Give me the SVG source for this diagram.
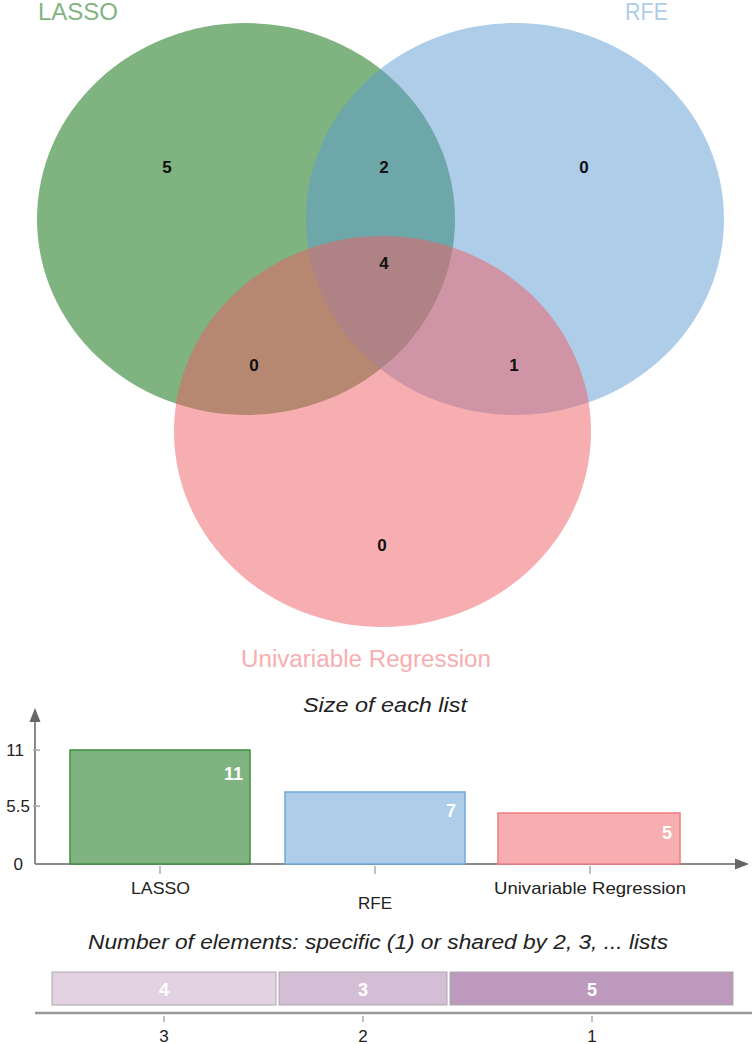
<svg xmlns="http://www.w3.org/2000/svg" width="752" height="1044" viewBox="0 0 752 1044">
<style>
.lbl{font-family:"Liberation Sans",Arial,sans-serif;}
.num{font-family:"Liberation Sans",Arial,sans-serif;font-weight:bold;font-size:17px;fill:#111;}
.ax{stroke:#8a8a8a;stroke-width:2;fill:none;}
.tk{stroke:#aaa;stroke-width:1.5;}
.tl{font-family:"Liberation Sans",Arial,sans-serif;font-size:17px;fill:#222;}
.bv{font-family:"Liberation Sans",Arial,sans-serif;font-weight:bold;font-size:18px;fill:#fff;}
.ttl{font-family:"Liberation Sans",Arial,sans-serif;font-style:italic;font-size:20px;fill:#222;}
</style>
<rect width="752" height="1044" fill="#fff"/>
<g id="venn">
<g id="set-lasso"><ellipse cx="246" cy="219" rx="209" ry="196" fill="#006700" fill-opacity="0.5"/></g>
<g id="set-rfe"><ellipse cx="515" cy="219" rx="209" ry="196" fill="#5d9bd3" fill-opacity="0.5"/></g>
<g id="set-univ"><ellipse cx="382.5" cy="431.5" rx="208.5" ry="195.5" fill="#ef5d63" fill-opacity="0.5"/></g>
<text class="lbl" x="38" y="20" font-size="23" fill="#82b482" textLength="80" lengthAdjust="spacingAndGlyphs">LASSO</text>
<text class="lbl" x="625" y="20" font-size="23" fill="#aecde9" textLength="43" lengthAdjust="spacingAndGlyphs">RFE</text>
<text class="lbl" x="241" y="667" font-size="23" fill="#f7aeb1" textLength="250" lengthAdjust="spacingAndGlyphs">Univariable Regression</text>
<g text-anchor="middle">
<text class="num" x="167" y="173">5</text>
<text class="num" x="384" y="173">2</text>
<text class="num" x="584" y="173">0</text>
<text class="num" x="384" y="269">4</text>
<text class="num" x="254" y="371">0</text>
<text class="num" x="514" y="371">1</text>
<text class="num" x="382" y="551">0</text>
</g>
</g>
<g id="bar-chart">
<text class="ttl" x="303" y="712" textLength="164" lengthAdjust="spacingAndGlyphs">Size of each list</text>
<g id="axes">
<line class="ax" x1="35" y1="864" x2="35" y2="720"/>
<polygon points="35,708 29.5,722 40.5,722" fill="#666"/>
<line class="ax" x1="35" y1="864" x2="736" y2="864"/>
<polygon points="749,864 735,858.5 735,869.5" fill="#666"/>
<line class="tk" x1="33" y1="750" x2="40" y2="750"/>
<line class="tk" x1="33" y1="806" x2="40" y2="806"/>
<line class="tk" x1="160" y1="866" x2="160" y2="874"/>
<line class="tk" x1="375" y1="866" x2="375" y2="874"/>
<line class="tk" x1="590" y1="866" x2="590" y2="874"/>
<text class="tl" x="24" y="756" text-anchor="end">11</text>
<text class="tl" x="30" y="812" text-anchor="end">5.5</text>
<text class="tl" x="23" y="870" text-anchor="end">0</text>
</g>
<g id="bar-lasso"><rect x="70" y="750" width="180" height="114" fill="#7fb37f" stroke="#3f8f3f" stroke-width="1.5"/><text class="bv" x="243" y="780" text-anchor="end">11</text><text class="tl" x="131" y="894" textLength="59" lengthAdjust="spacingAndGlyphs">LASSO</text></g>
<g id="bar-rfe"><rect x="285" y="792" width="180" height="72" fill="#aecde9" stroke="#70a7da" stroke-width="1.5"/><text class="bv" x="456" y="817" text-anchor="end">7</text><text class="tl" x="375" y="909" text-anchor="middle">RFE</text></g>
<g id="bar-univ"><rect x="498" y="813" width="182" height="51" fill="#f7aeb1" stroke="#ef7c80" stroke-width="1.5"/><text class="bv" x="672" y="839" text-anchor="end">5</text><text class="tl" x="494" y="894" textLength="192" lengthAdjust="spacingAndGlyphs">Univariable Regression</text></g>
</g>
<g id="shared-chart">
<text class="ttl" x="88" y="949" textLength="580" lengthAdjust="spacingAndGlyphs">Number of elements: specific (1) or shared by 2, 3, ... lists</text>
<g text-anchor="middle">
<g id="seg-3"><rect x="52" y="972" width="224" height="33" fill="#e2d2e3" stroke="#a9a9a9" stroke-width="1"/><text class="bv" x="164" y="996">4</text></g>
<g id="seg-2"><rect x="279" y="972" width="168" height="33" fill="#d4bed5" stroke="#a9a9a9" stroke-width="1"/><text class="bv" x="363" y="996">3</text></g>
<g id="seg-1"><rect x="450" y="972" width="283" height="33" fill="#bd99bd" stroke="#a9a9a9" stroke-width="1"/><text class="bv" x="592" y="996">5</text></g>
<line x1="35" y1="1013" x2="752" y2="1013" stroke="#999" stroke-width="2.5"/>
<line class="tk" x1="164" y1="1016" x2="164" y2="1022"/>
<line class="tk" x1="363" y1="1016" x2="363" y2="1022"/>
<line class="tk" x1="592" y1="1016" x2="592" y2="1022"/>
<text class="tl" x="164" y="1042">3</text>
<text class="tl" x="363" y="1042">2</text>
<text class="tl" x="592" y="1042">1</text>
</g>
</g>
</svg>
